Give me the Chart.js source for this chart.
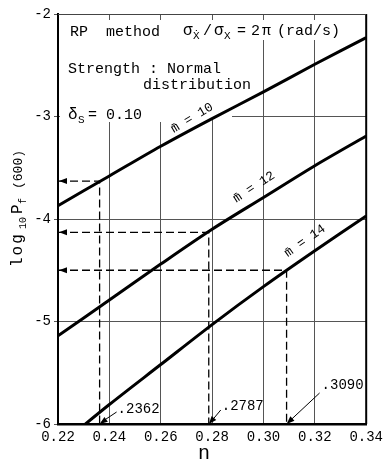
<!DOCTYPE html>
<html>
<head>
<meta charset="utf-8">
<script src="https://cdn.jsdelivr.net/npm/chart.js@4.4.0/dist/chart.umd.min.js"></script>
<style>
    html, body { margin: 0; padding: 0; background: #fff; }
</style>
</head>
<body>
<canvas id="myChart" width="388" height="467"></canvas>
<script>
// values
const nValues = [0.22, 0.24, 0.26, 0.28, 0.30, 0.32, 0.34];
const logPfM10 = [-3.87, -3.58, -3.29, -3.02, -2.76, -2.49, -2.23];
const logPfM12 = [-5.14, -4.79, -4.44, -4.10, -3.79, -3.48, -3.19];
const logPfM14 = [-6.22, -5.81, -5.42, -5.03, -4.66, -4.31, -3.97];
const curveLabels = ["m\u0304 = 10", "m\u0304 = 12", "m\u0304 = 14"];

// read-off lines (n where each curve reaches the target log Pf)
const readN = [0.2362, 0.2787, 0.3090];
const readLogPf = [-3.63, -4.13, -4.50];
const readLabels = [".2362", ".2787", ".3090"];

const xTicks = [0.22, 0.24, 0.26, 0.28, 0.30, 0.32, 0.34];
const yTicks = [-6, -5, -4, -3, -2];

const mono = "'Liberation Mono', 'DejaVu Sans Mono', monospace";


window.onload = () => {
    const curves = [logPfM10, logPfM12, logPfM14].map(vals => ({
        data: nValues.map((n, i) => ({ x: n, y: vals[i] })),
        borderColor: "#000",
        borderWidth: 3,
        pointRadius: 0,
        tension: 0.3,
        fill: false
    }));

    const readLines = readN.map((n, i) => ({
        data: [
            { x: xTicks[0], y: readLogPf[i] },
            { x: n, y: readLogPf[i] },
            { x: n, y: yTicks[0] }
        ],
        borderColor: "#000",
        borderWidth: 1.3,
        borderDash: [8, 4],
        pointRadius: 0,
        tension: 0,
        fill: false
    }));

    addChart(curves.concat(readLines));
}


// white patches where the original has its text block over the grid
function maskGrid(chart) {
    const { ctx, chartArea: a } = chart;
    ctx.save();
    ctx.fillStyle = "#fff";
    ctx.fillRect(a.left + 2, a.top + 6, 140, 102);
    ctx.fillRect(a.left + 142, a.top + 6, 32, 97);
    ctx.fillRect(a.left + 174, a.top + 6, a.right - a.left - 176, 20);
    ctx.restore();
}


function drawText(ctx, text, x, y, size, align) {
    ctx.font = size + "px " + mono;
    ctx.textAlign = align || "left";
    ctx.fillText(text, x, y);
}


function arrowHead(ctx, x, y, angle, len, half) {
    ctx.save();
    ctx.translate(x, y);
    ctx.rotate(angle);
    ctx.beginPath();
    ctx.moveTo(0, 0);
    ctx.lineTo(len, -half);
    ctx.lineTo(len, half);
    ctx.closePath();
    ctx.fill();
    ctx.restore();
}


function annotate(chart) {
    const { ctx, chartArea: a, scales } = chart;
    const xs = scales.x, ys = scales.y;
    ctx.save();
    ctx.fillStyle = "#000";
    ctx.strokeStyle = "#000";
    ctx.textBaseline = "alphabetic";

    // frame: right and top
    ctx.lineWidth = 2;
    ctx.beginPath();
    ctx.moveTo(a.right, a.top);
    ctx.lineTo(a.right, a.bottom);
    ctx.stroke();
    ctx.lineWidth = 1;
    ctx.strokeStyle = "#444";
    ctx.beginPath();
    ctx.moveTo(a.left, a.top + 0.5);
    ctx.lineTo(a.right, a.top + 0.5);
    ctx.stroke();
    ctx.strokeStyle = "#000";

    // arrows on the y axis
    readLogPf.forEach(v => {
        arrowHead(ctx, a.left + 1, ys.getPixelForValue(v), 0, 8, 3);
    });

    // n labels at the foot with leader arrows
    const leaderEnd = [[17, -12], [12, -14], [33, -31]];
    const textOff = [[18, -11], [13, -14], [35, -35]];
    ctx.lineWidth = 1;
    readN.forEach((n, i) => {
        const px = xs.getPixelForValue(n);
        const py = a.bottom;
        const ex = px + leaderEnd[i][0], ey = py + leaderEnd[i][1];
        ctx.beginPath();
        ctx.moveTo(px + 2, py - 2);
        ctx.lineTo(ex, ey);
        ctx.stroke();
        arrowHead(ctx, px, py, Math.atan2(ey - py, ex - px), 8, 3);
        drawText(ctx, readLabels[i], px + textOff[i][0], py + textOff[i][1], 14);
    });

    // text block
    const L = a.left;
    drawText(ctx, "RP  method", L + 12, 36, 15);
    drawText(ctx, "Strength : Normal", L + 10, 73, 15);
    drawText(ctx, "distribution", L + 85, 89, 15);
    drawText(ctx, "\u03b4", L + 10, 119, 16);
    drawText(ctx, "S", L + 20, 123, 11);
    drawText(ctx, "= 0.10", L + 30, 119, 15);

    // sigma ratio
    drawText(ctx, "\u03c3", 183, 35, 16);
    drawText(ctx, "\u1e8a", 193, 39, 11);
    drawText(ctx, "/", 203, 35, 15);
    drawText(ctx, "\u03c3", 214, 35, 16);
    drawText(ctx, "X", 224, 39, 11);
    drawText(ctx, "=", 237, 35, 15);
    drawText(ctx, "2", 251, 35, 15);
    drawText(ctx, "\u03c0", 262, 35, 15);
    drawText(ctx, "(rad/s)", 277, 35, 15);

    // curve labels along the lines
    const lab = [[192, 118, -31], [254, 187, -33], [305, 241, -35]];
    lab.forEach((p, i) => {
        ctx.save();
        ctx.translate(p[0], p[1]);
        ctx.rotate(p[2] * Math.PI / 180);
        ctx.textBaseline = "middle";
        drawText(ctx, curveLabels[i], 0, 0, 13, "center");
        ctx.restore();
    });

    // axis titles
    drawText(ctx, "n", 204, 459, 20, "center");

    ctx.save();
    ctx.translate(22, 208);
    ctx.rotate(-Math.PI / 2);
    ctx.letterSpacing = "2px";
    drawText(ctx, "log", -59, 0, 16);
    ctx.letterSpacing = "0px";
    drawText(ctx, "10", -21, 4, 10);
    drawText(ctx, "P", -6, 0, 16);
    drawText(ctx, "f", 4, 4, 10);
    drawText(ctx, "(600)", 19, 0, 13);
    ctx.restore();

    ctx.restore();
}


function addChart(datasets) {

    const config = {
        type: "line",
        data: { datasets: datasets },
        options: {
            responsive: false,
            animation: false,
            layout: { padding: { top: 14, right: 21, left: 0, bottom: 0 } },
            plugins: {
                legend: { display: false },
                tooltip: { enabled: false }
            },
            scales: {
                x: {
                    type: "linear",
                    min: xTicks[0],
                    max: xTicks[xTicks.length - 1],
                    afterBuildTicks: s => { s.ticks = xTicks.map(v => ({ value: v })); },
                    afterFit: s => { s.height = 43; },
                    ticks: {
                        callback: v => v.toFixed(2),
                        color: "#000",
                        padding: 5,
                        maxRotation: 0,
                        font: { family: mono, size: 14 }
                    },
                    grid: { color: "#555", lineWidth: 1, drawTicks: false },
                    border: { color: "#000", width: 2.5 }
                },
                y: {
                    min: yTicks[0],
                    max: yTicks[yTicks.length - 1],
                    afterBuildTicks: s => { s.ticks = yTicks.map(v => ({ value: v })); },
                    afterFit: s => { s.width = 58; },
                    ticks: {
                        callback: v => String(v),
                        color: "#000",
                        padding: 3,
                        font: { family: mono, size: 14 }
                    },
                    grid: { color: "#555", lineWidth: 1, tickLength: 4 },
                    border: { color: "#000", width: 2 }
                }
            }
        },
        plugins: [{
            id: "annotate",
            beforeDatasetsDraw: maskGrid,
            afterDatasetsDraw: annotate
        }]
    }

    const ctx = document.getElementById("myChart").getContext("2d");
    const myChart = new Chart(ctx, config);
}
</script>
</body>
</html>
